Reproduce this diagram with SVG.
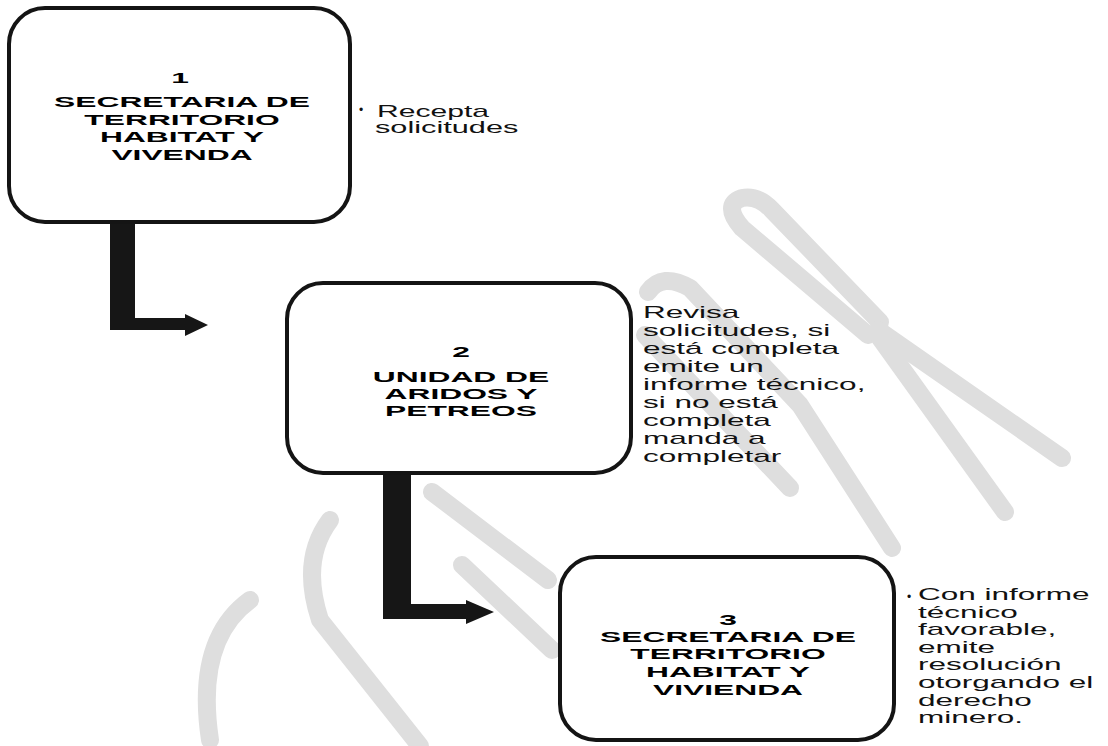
<svg xmlns="http://www.w3.org/2000/svg" width="1108" height="746" viewBox="0 0 1108 746">
<style>
.wm{fill:none;stroke:#dedede;stroke-width:18;stroke-linecap:round;stroke-linejoin:round}
.box{fill:#ffffff;stroke:#141414;stroke-width:4}
.arrow{fill:#161616}
.title{font-family:"Liberation Sans",Arial,sans-serif;font-weight:bold;font-size:15.5px;fill:#000;text-anchor:middle}
.desc{font-family:"Liberation Sans",Arial,sans-serif;font-size:16px;fill:#111}
.bullet{font-family:"Liberation Sans",Arial,sans-serif;font-size:12px;fill:#111}
</style>
<rect width="1108" height="746" fill="#ffffff"/>
<g id="watermark">
<path class="wm" d="M 868 335 L 742 228 Q 722 205 742 198 Q 758 195 772 210 L 880 322"/>
<path class="wm" d="M 878 330 L 1062 458"/>
<path class="wm" d="M 880 338 L 1005 512"/>
<path class="wm" d="M 648 292 Q 662 272 690 288 L 800 405 L 892 548"/>
<path class="wm" d="M 645 335 L 790 488"/>
<path class="wm" d="M 432 492 L 548 580"/>
<path class="wm" d="M 462 565 L 552 650"/>
<path class="wm" d="M 330 520 Q 300 560 320 620 L 420 746"/>
<path class="wm" d="M 250 600 Q 195 640 210 740"/>
</g>
<g id="connectors">
<polygon class="arrow" points="110,222 135,222 135,318 185,318 185,314 208,325 185,336 185,330 110,330"/>
<polygon class="arrow" points="383,473 411,473 411,604 466,604 466,600 494,612 466,624 466,619 383,619"/>
</g>
<g id="node1">
<rect class="box" x="9" y="8" width="341" height="214" rx="36" ry="36"/>
<text class="title" transform="translate(180,83) scale(2.05,1)">1</text>
<text class="title" transform="translate(182,107) scale(2.05,1)">SECRETARIA DE</text>
<text class="title" transform="translate(182,125) scale(2.05,1)">TERRITORIO</text>
<text class="title" transform="translate(182,142) scale(2.05,1)">HABITAT Y</text>
<text class="title" transform="translate(182,160) scale(2.05,1)">VIVENDA</text>
</g>
<g id="desc1">
<text class="bullet" x="359" y="114">•</text>
<text class="desc" transform="translate(377,117) scale(1.88,1)">Recepta</text>
<text class="desc" transform="translate(375,133) scale(1.92,1)">solicitudes</text>
</g>
<g id="node2">
<rect class="box" x="287" y="283" width="344" height="190" rx="36" ry="36"/>
<text class="title" transform="translate(461,357) scale(2.05,1)">2</text>
<text class="title" transform="translate(461,382) scale(2.05,1)">UNIDAD DE</text>
<text class="title" transform="translate(461,399) scale(2.05,1)">ARIDOS Y</text>
<text class="title" transform="translate(461,416) scale(2.05,1)">PETREOS</text>
</g>
<g id="desc2">
<text class="desc" transform="translate(643,318) scale(1.97,1)">Revisa</text>
<text class="desc" transform="translate(643,336) scale(1.97,1)">solicitudes, si</text>
<text class="desc" transform="translate(643,354) scale(1.97,1)">está completa</text>
<text class="desc" transform="translate(643,372) scale(1.97,1)">emite un</text>
<text class="desc" transform="translate(643,390) scale(1.97,1)">informe técnico,</text>
<text class="desc" transform="translate(643,408) scale(1.97,1)">si no está</text>
<text class="desc" transform="translate(643,426) scale(1.97,1)">completa</text>
<text class="desc" transform="translate(643,444) scale(1.97,1)">manda a</text>
<text class="desc" transform="translate(643,462) scale(1.97,1)">completar</text>
</g>
<g id="node3">
<rect class="box" x="560" y="557" width="334" height="183" rx="36" ry="36"/>
<text class="title" transform="translate(728,625) scale(2.05,1)">3</text>
<text class="title" transform="translate(728,642) scale(2.05,1)">SECRETARIA DE</text>
<text class="title" transform="translate(728,659) scale(2.05,1)">TERRITORIO</text>
<text class="title" transform="translate(728,677) scale(2.05,1)">HABITAT Y</text>
<text class="title" transform="translate(728,695) scale(2.05,1)">VIVIENDA</text>
</g>
<g id="desc3">
<text class="bullet" x="907" y="601">•</text>
<text class="desc" transform="translate(918,600) scale(1.97,1)">Con informe</text>
<text class="desc" transform="translate(918,618) scale(1.97,1)">técnico</text>
<text class="desc" transform="translate(918,635) scale(1.97,1)">favorable,</text>
<text class="desc" transform="translate(918,653) scale(1.97,1)">emite</text>
<text class="desc" transform="translate(918,670) scale(1.97,1)">resolución</text>
<text class="desc" transform="translate(918,688) scale(1.97,1)">otorgando el</text>
<text class="desc" transform="translate(918,706) scale(1.97,1)">derecho</text>
<text class="desc" transform="translate(918,723) scale(1.97,1)">minero.</text>
</g>
</svg>
